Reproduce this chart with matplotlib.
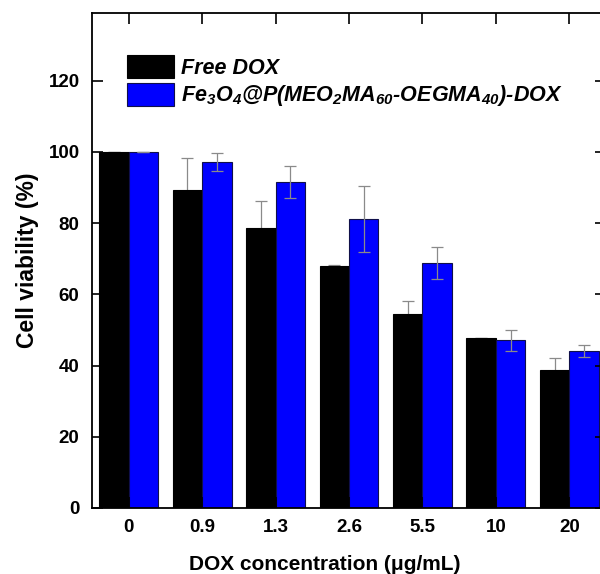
# Cell viability of free DOX vs the DOX-loaded magnetic nanoparticles
# bar chart with error bars

import numpy as np
import matplotlib
matplotlib.use("Agg")
import matplotlib.pyplot as plt

plt.rcParams['font.family'] = ['Liberation Sans', 'DejaVu Sans']
plt.rcParams['font.weight'] = 'bold'
plt.rcParams['mathtext.fontset'] = 'custom'
plt.rcParams['mathtext.rm'] = 'Liberation Sans:italic:bold'
plt.rcParams['mathtext.it'] = 'Liberation Sans:italic:bold'
plt.rcParams['mathtext.bf'] = 'Liberation Sans:italic:bold'

# data
concentrations = ['0', '0.9', '1.3', '2.6', '5.5', '10', '20']
freeDox = [100, 89.2, 78.6, 68.0, 54.4, 47.7, 38.7]
freeDoxErr = [0, 9.0, 7.5, 0.3, 3.7, 0, 3.4]
nanoDox = [100, 97.2, 91.6, 81.1, 68.8, 47.1, 44.1]
nanoDoxErr = [0, 2.6, 4.5, 9.2, 4.5, 3.0, 1.7]
yTicks = [0, 20, 40, 60, 80, 100, 120]

labelFree = 'Free DOX'
labelNano = r'Fe$_3$O$_4$@P(MEO$_2$MA$_{60}$-OEGMA$_{40}$)-DOX'

barWidth = 0.4
x = np.arange(len(concentrations))

fig = plt.figure(figsize=(6.0, 5.74), dpi=100)
# right spine sits just outside the picture, like in the original
ax = fig.add_axes([92/600, 66/574, 514/600, 495/574])

errStyle = dict(ecolor='#8a8a8a', elinewidth=0.9, capsize=4.5, capthick=0.9)
# free DOX error bars sit behind the black bars, only the upper half shows
ax.bar(x - barWidth/2, freeDox, barWidth, yerr=freeDoxErr, color='black',
       edgecolor='black', linewidth=0.8, label=labelFree,
       error_kw=dict(errStyle, zorder=0.5))
ax.bar(x + barWidth/2, nanoDox, barWidth, yerr=nanoDoxErr, color='#0000ff',
       edgecolor='#10104a', linewidth=0.8, label=labelNano, error_kw=errStyle)

ax.set_xlim(-0.5, len(concentrations) - 0.5)
ax.set_ylim(0, 139)
ax.set_xticks(x)
ax.set_xticklabels(concentrations)
ax.set_yticks(yTicks)

ax.tick_params(direction='in', top=True, right=True, length=8, width=1.2,
               labelsize=13.5)
ax.tick_params(axis='x', pad=8)
ax.tick_params(axis='y', pad=9)
for s in ax.spines.values():
    s.set_linewidth(1.3)

ax.set_xlabel('DOX concentration (\u03bcg/mL)', fontsize=15, fontweight='bold')
ax.xaxis.set_label_coords((325 - 92) / 514, -0.095)
ax.set_ylabel('Cell viability (%)', fontsize=16.5, fontweight='bold', labelpad=7)

leg = ax.legend(loc='upper left', bbox_to_anchor=(127/600, 1 - 55/574),
                bbox_transform=fig.transFigure, frameon=False,
                borderpad=0, borderaxespad=0, handlelength=2.2,
                handleheight=1.27, handletextpad=0.32, labelspacing=0.18,
                prop=dict(family='Liberation Sans', weight='bold',
                          style='italic', size=15.5))

fig.savefig('out.png', dpi=100)
